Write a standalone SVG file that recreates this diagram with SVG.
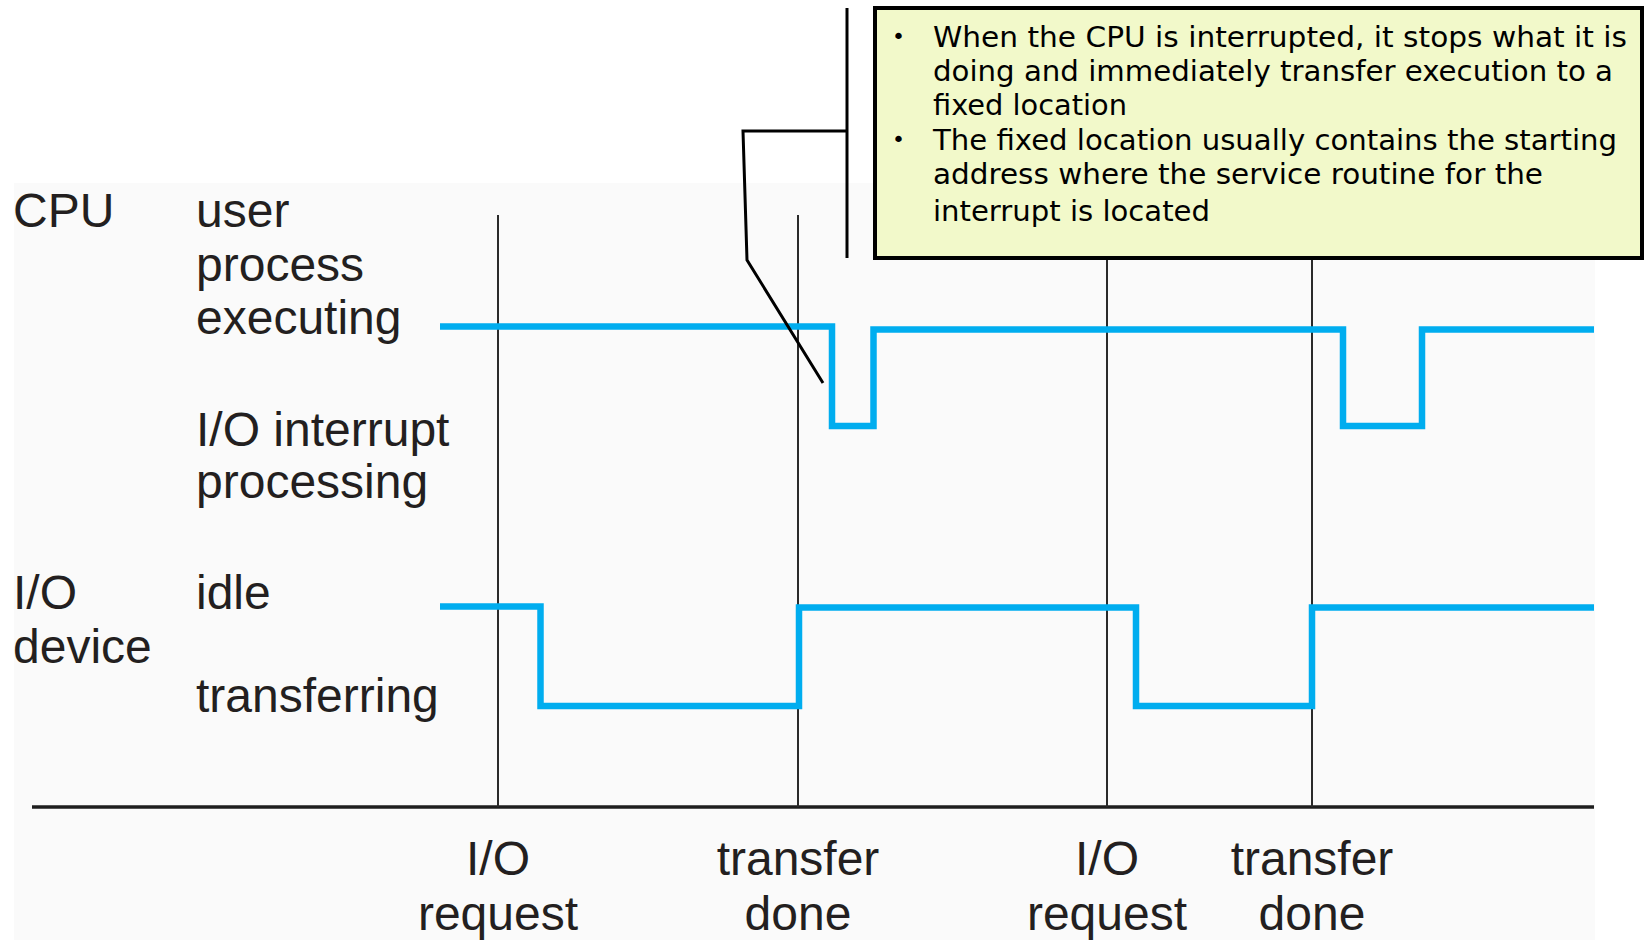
<svg xmlns="http://www.w3.org/2000/svg" width="1646" height="940" viewBox="0 0 1646 940">
<style>
.lbl{font-family:"Liberation Sans",Arial,sans-serif;font-size:48px;fill:#231f20}
.mid{text-anchor:middle}
.grid{stroke:#2a2a2a;stroke-width:2;fill:none}
.sig{stroke:#00adef;stroke-width:6.5;fill:none;stroke-linejoin:miter;stroke-linecap:butt}
.note{font-family:"DejaVu Sans",Verdana,sans-serif;font-size:28px;fill:#000}
.bul{font-family:"DejaVu Sans",sans-serif;font-size:22px;fill:#000}
.call{stroke:#000;stroke-width:3;fill:none}
</style>
<rect x="0" y="0" width="1646" height="940" fill="#ffffff"/>
<rect x="14" y="183" width="1581" height="757" fill="#fafafa"/>
<g id="axis">
<line x1="32" y1="807" x2="1594" y2="807" stroke="#1e1e1e" stroke-width="3.5"/>
<line class="grid" x1="498" y1="215" x2="498" y2="807"/>
<line class="grid" x1="798" y1="215" x2="798" y2="807"/>
<line class="grid" x1="1107" y1="215" x2="1107" y2="807"/>
<line class="grid" x1="1312" y1="215" x2="1312" y2="807"/>
</g>
<g id="labels">
<text class="lbl" x="13" y="227">CPU</text>
<text class="lbl" x="196" y="227">user</text>
<text class="lbl" x="196" y="281">process</text>
<text class="lbl" x="196" y="334">executing</text>
<text class="lbl" x="196" y="446">I/O interrupt</text>
<text class="lbl" x="196" y="498">processing</text>
<text class="lbl" x="13" y="609">I/O</text>
<text class="lbl" x="13" y="663">device</text>
<text class="lbl" x="196" y="609">idle</text>
<text class="lbl" x="196" y="712">transferring</text>
<text class="lbl mid" x="498" y="875">I/O</text>
<text class="lbl mid" x="498" y="930">request</text>
<text class="lbl mid" x="798" y="875">transfer</text>
<text class="lbl mid" x="798" y="930">done</text>
<text class="lbl mid" x="1107" y="875">I/O</text>
<text class="lbl mid" x="1107" y="930">request</text>
<text class="lbl mid" x="1312" y="875">transfer</text>
<text class="lbl mid" x="1312" y="930">done</text>
</g>
<g id="signals">
<path id="cpu" class="sig" d="M440 326.5 H832 V426 H873.5 V329.5 H1343 V426 H1422 V329.5 H1594"/>
<path id="io" class="sig" d="M440 606.5 H540.5 V706 H799 V607.5 H1136 V706 H1312 V607.5 H1594"/>
</g>
<g id="connectors">
<polyline class="call" points="847,8 847,258"/>
<polyline class="call" points="847,131 743,131 747,260 823,383"/>
</g>
<g id="callout">
<rect x="875" y="8" width="767" height="250" fill="#f2f9ca" stroke="#000" stroke-width="4"/>
<text class="bul" x="892" y="44">•</text>
<text class="note" x="933" y="47" textLength="694" lengthAdjust="spacingAndGlyphs">When the CPU is interrupted, it stops what it is</text>
<text class="note" x="933" y="81" textLength="680" lengthAdjust="spacingAndGlyphs">doing and immediately transfer execution to a</text>
<text class="note" x="933" y="115" textLength="194" lengthAdjust="spacingAndGlyphs">fixed location</text>
<text class="bul" x="892" y="147">•</text>
<text class="note" x="933" y="150" textLength="684" lengthAdjust="spacingAndGlyphs">The fixed location usually contains the starting</text>
<text class="note" x="933" y="184" textLength="610" lengthAdjust="spacingAndGlyphs">address where the service routine for the</text>
<text class="note" x="933" y="221" textLength="277" lengthAdjust="spacingAndGlyphs">interrupt is located</text>
</g>
</svg>
